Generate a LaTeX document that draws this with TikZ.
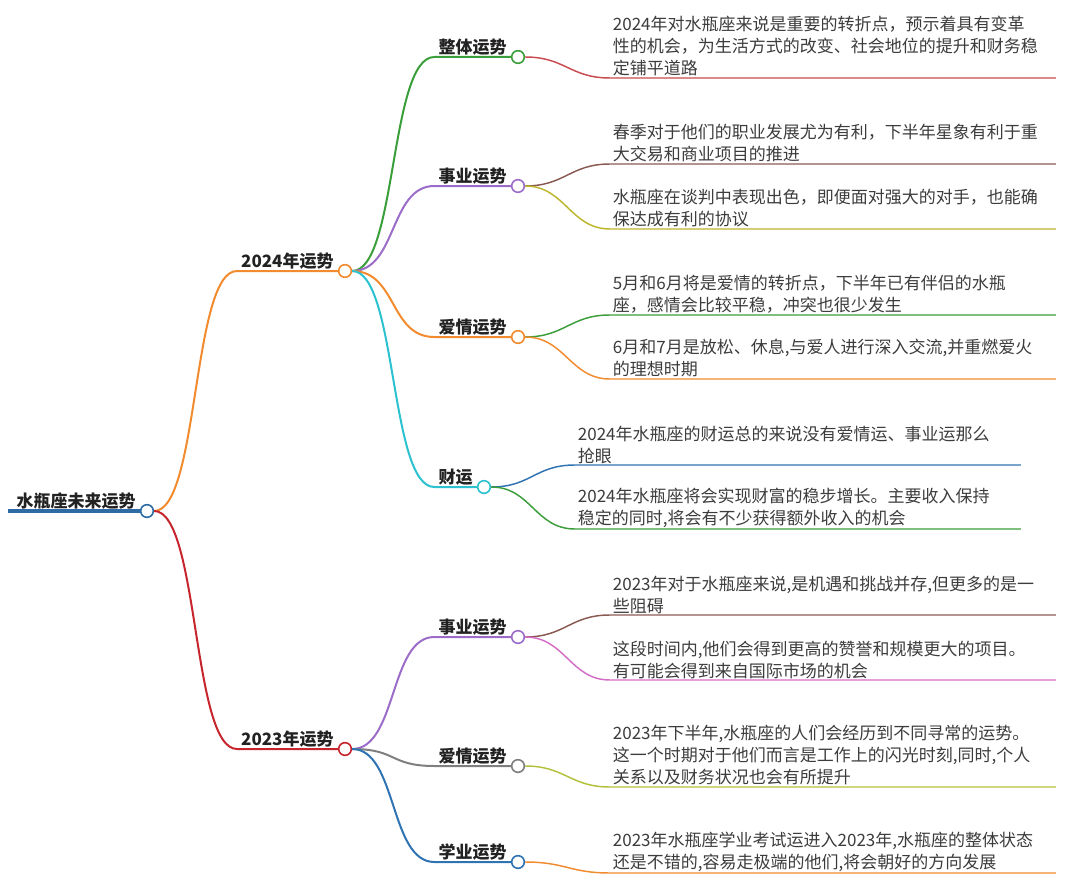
\documentclass[tikz,border=0pt]{standalone}
\usepackage{fontspec}
\setmainfont{Noto Sans CJK SC}
\usepackage{xcolor}
\usepackage{tikz}
\usetikzlibrary{positioning}
\definecolor{rootblue}{HTML}{2D6BA5}
\definecolor{orng}{HTML}{F28A2E}
\definecolor{crimson}{HTML}{C7252E}
\definecolor{grn}{HTML}{3A9E3A}
\definecolor{rosered}{HTML}{C94A4F}
\definecolor{purp}{HTML}{9B6DC9}
\definecolor{brwn}{HTML}{8A5A52}
\definecolor{olive}{HTML}{BDB62C}
\definecolor{cyanb}{HTML}{2BC1CF}
\definecolor{blu}{HTML}{2F73B3}
\definecolor{pinkm}{HTML}{D46DC6}
\definecolor{gry}{HTML}{7F7F7F}
\definecolor{lime}{HTML}{B3C13A}
\definecolor{txt}{HTML}{222222}
\definecolor{leaftxt}{HTML}{3C3C3C}
\tikzset{
  hub/.style={
    circle, draw=#1, fill=white, line width=1.2pt,
    minimum size=9.5pt, inner sep=0pt
  },
  topic/.style={
    font=\bfseries\fontsize{12.75}{15}\selectfont, text=txt,
    anchor=south east, inner xsep=3pt, inner ysep=1pt
  },
  leaf/.style={
    font=\fontsize{12.75}{16.5}\selectfont, text=leaftxt,
    anchor=south west, text width=330pt, align=left,
    inner xsep=2pt, inner ysep=1pt
  },
  branch/.style={line width=1.5pt, color=#1},
  twig/.style={line width=1.1pt, color=#1},
}
\begin{document}
\begin{tikzpicture}[x=0.75pt, y=-0.75pt]
  \useasboundingbox (0,0) rectangle (1083,881);

  % root
  \coordinate (rs) at (8,511);
  \node[hub=rootblue] (root) at (147,511) {};
  \node[topic] (rootlab) at (root.west) {水瓶座未来运势};
  \draw[rootblue, line width=3pt] (rs) -- (root.west);

  % years
  \node[hub=orng] (h24) at (345,271) {};
  \node[topic] (t24) at (h24.west) {2024年运势};
  \node[hub=crimson] (h23) at (345,749) {};
  \node[topic] (t23) at (h23.west) {2023年运势};
  \draw[branch=orng] (root.east) .. controls +(45,0) and +(-45,0) .. (t24.south west) -- (h24.west);
  \draw[branch=crimson] (root.east) .. controls +(45,0) and +(-45,0) .. (t23.south west) -- (h23.west);

  % 2024 topics
  \node[hub=grn] (hA) at (518,57) {};
  \node[topic] (tA) at (hA.west) {整体运势};
  \node[hub=purp] (hB) at (518,186) {};
  \node[topic] (tB) at (hB.west) {事业运势};
  \node[hub=orng] (hC) at (518,337) {};
  \node[topic] (tC) at (hC.west) {爱情运势};
  \node[hub=cyanb] (hD) at (484,487) {};
  \node[topic] (tD) at (hD.west) {财运};
  \draw[branch=grn] (h24.east) .. controls +(45,0) and +(-45,0) .. (tA.south west) -- (hA.west);
  \draw[branch=purp] (h24.east) .. controls +(45,0) and +(-45,0) .. (tB.south west) -- (hB.west);
  \draw[branch=orng] (h24.east) .. controls +(45,0) and +(-45,0) .. (tC.south west) -- (hC.west);
  \draw[branch=cyanb] (h24.east) .. controls +(45,0) and +(-45,0) .. (tD.south west) -- (hD.west);

  % 2023 topics
  \node[hub=purp] (hE) at (518,637) {};
  \node[topic] (tE) at (hE.west) {事业运势};
  \node[hub=gry] (hF) at (518,766) {};
  \node[topic] (tF) at (hF.west) {爱情运势};
  \node[hub=blu] (hG) at (518,862) {};
  \node[topic] (tG) at (hG.west) {学业运势};
  \draw[branch=purp] (h23.east) .. controls +(45,0) and +(-45,0) .. (tE.south west) -- (hE.west);
  \draw[branch=gry] (h23.east) .. controls +(45,0) and +(-45,0) .. (tF.south west) -- (hF.west);
  \draw[branch=blu] (h23.east) .. controls +(45,0) and +(-45,0) .. (tG.south west) -- (hG.west);

  % details
  \node[leaf] (l1) at (610,78) {2024年对水瓶座来说是重要的转折点，预示着具有变革\\性的机会，为生活方式的改变、社会地位的提升和财务稳\\定铺平道路};
  \node[leaf] (l2) at (610,164) {春季对于他们的职业发展尤为有利，下半年星象有利于重\\大交易和商业项目的推进};
  \node[leaf] (l3) at (610,229) {水瓶座在谈判中表现出色，即便面对强大的对手，也能确\\保达成有利的协议};
  \node[leaf] (l4) at (610,315) {5月和6月将是爱情的转折点，下半年已有伴侣的水瓶\\座，感情会比较平稳，冲突也很少发生};
  \node[leaf] (l5) at (610,379) {6月和7月是放松、休息,与爱人进行深入交流,并重燃爱火\\的理想时期};
  \node[leaf] (l6) at (575,465) {2024年水瓶座的财运总的来说没有爱情运、事业运那么\\抢眼};
  \node[leaf] (l7) at (575,529) {2024年水瓶座将会实现财富的稳步增长。主要收入保持\\稳定的同时,将会有不少获得额外收入的机会};
  \node[leaf] (l8) at (610,615) {2023年对于水瓶座来说,是机遇和挑战并存,但更多的是一\\些阻碍};
  \node[leaf] (l9) at (610,680) {这段时间内,他们会得到更高的赞誉和规模更大的项目。\\有可能会得到来自国际市场的机会};
  \node[leaf] (l10) at (610,787) {2023年下半年,水瓶座的人们会经历到不同寻常的运势。\\这一个时期对于他们而言是工作上的闪光时刻,同时,个人\\关系以及财务状况也会有所提升};
  \node[leaf] (l11) at (610,873) {2023年水瓶座学业考试运进入2023年,水瓶座的整体状态\\还是不错的,容易走极端的他们,将会朝好的方向发展};

  \draw[twig=rosered] (hA.east) .. controls +(40,0) and +(-40,0) .. (l1.south west) -- (l1.south east);
  \draw[twig=brwn] (hB.east) .. controls +(40,0) and +(-40,0) .. (l2.south west) -- (l2.south east);
  \draw[twig=olive] (hB.east) .. controls +(40,0) and +(-40,0) .. (l3.south west) -- (l3.south east);
  \draw[twig=grn] (hC.east) .. controls +(40,0) and +(-40,0) .. (l4.south west) -- (l4.south east);
  \draw[twig=orng] (hC.east) .. controls +(40,0) and +(-40,0) .. (l5.south west) -- (l5.south east);
  \draw[twig=blu] (hD.east) .. controls +(40,0) and +(-40,0) .. (l6.south west) -- (l6.south east);
  \draw[twig=grn] (hD.east) .. controls +(40,0) and +(-40,0) .. (l7.south west) -- (l7.south east);
  \draw[twig=brwn] (hE.east) .. controls +(40,0) and +(-40,0) .. (l8.south west) -- (l8.south east);
  \draw[twig=pinkm] (hE.east) .. controls +(40,0) and +(-40,0) .. (l9.south west) -- (l9.south east);
  \draw[twig=lime] (hF.east) .. controls +(40,0) and +(-40,0) .. (l10.south west) -- (l10.south east);
  \draw[twig=orng] (hG.east) .. controls +(40,0) and +(-40,0) .. (l11.south west) -- (l11.south east);
\end{tikzpicture}
\end{document}
